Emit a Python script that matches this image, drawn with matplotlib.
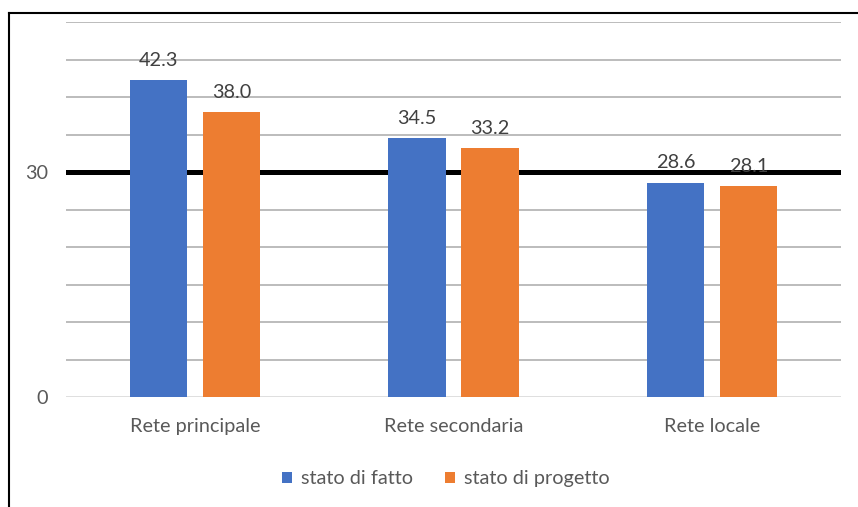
import matplotlib
matplotlib.use("Agg")
import matplotlib.pyplot as plt
import numpy as np
from matplotlib.lines import Line2D

categories = ["Rete principale", "Rete secondaria", "Rete locale"]
series_names = ["stato di fatto", "stato di progetto"]
stato_di_fatto = [42.3, 34.5, 28.6]
stato_di_progetto = [38.0, 33.2, 28.1]
ytick_values = [0, 30]
ytick_labels = ["0", "30"]
reference_value = 30

colors = ["#4472C4", "#ED7D31"]
plt.rcParams['font.family'] = ['Lato', 'DejaVu Sans']
FS = 14.3

fig = plt.figure(figsize=(8.58, 5.07), dpi=100)
ax = fig.add_axes([66/858, 1-397/507, (841-66)/858, 375/507])

x = np.arange(len(categories))
bw = 0.2207
off = 0.1413
for i, (vals, name) in enumerate(zip([stato_di_fatto, stato_di_progetto], series_names)):
    pos = x + (-off if i == 0 else off)
    bars = ax.bar(pos, vals, width=bw, color=colors[i], label=name, zorder=3)
    for b, v in zip(bars, vals):
        ax.text(b.get_x() + b.get_width()/2, v + 1.5, f"{v:.1f}", ha='center', va='bottom',
                fontsize=FS, color='#404040', zorder=4)

ax.set_xlim(-0.5, 2.5)
ax.set_ylim(0, 50)
for g in np.arange(5, 55, 5):
    if g != reference_value:
        ax.axhline(g, color='#b0b0b0', lw=1.2, zorder=1)
ax.axhline(reference_value, color='black', lw=3.6, zorder=2)
ax.axhline(0, color='#d9d9d9', lw=1.2, zorder=2)

for s in ax.spines.values():
    s.set_visible(False)
ax.set_yticks(ytick_values)
ax.set_yticklabels(ytick_labels)
ax.set_xticks(x)
ax.set_xticklabels(categories)
ax.tick_params(axis='y', length=0, pad=13, labelsize=FS, labelcolor='#595959')
ax.tick_params(axis='x', length=0, pad=15, labelsize=FS, labelcolor='#595959')

leg = ax.legend(loc='center', bbox_to_anchor=(0.49, -0.218), ncol=2, frameon=False,
                fontsize=FS, handlelength=0.5, handleheight=0.5, handletextpad=0.45,
                columnspacing=1.6)
for t in leg.get_texts():
    t.set_color('#595959')

# outer frame (cropped at right and bottom)
fig.add_artist(Line2D([9/858, 9/858], [0, 1-13/507], color='black', lw=1.5, transform=fig.transFigure))
fig.add_artist(Line2D([9/858, 1], [1-13/507, 1-13/507], color='black', lw=1.5, transform=fig.transFigure))

fig.savefig("out.png", dpi=100)
